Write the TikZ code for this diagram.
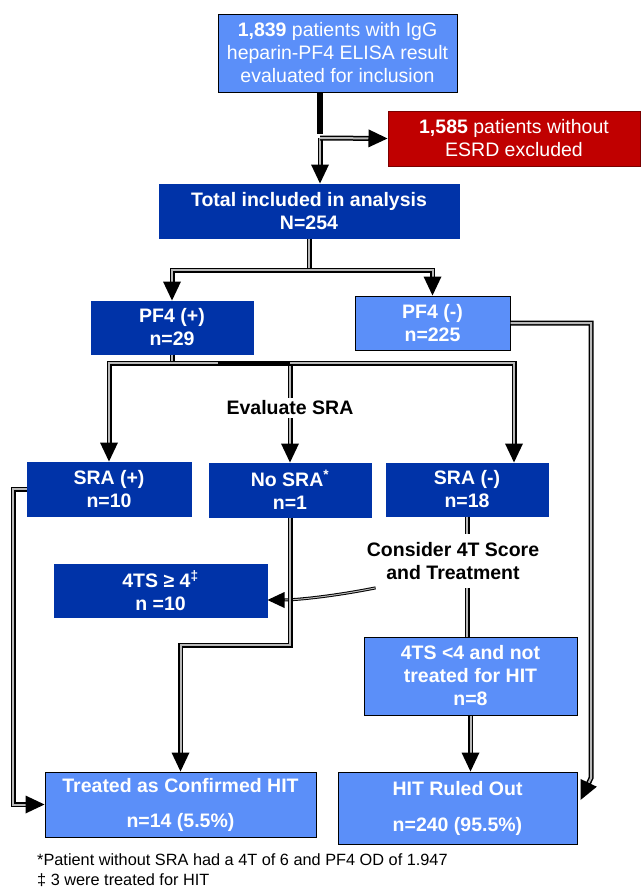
\documentclass[tikz,border=0pt]{standalone}
\usepackage{fontspec}
\setmainfont{Liberation Sans}
\usetikzlibrary{decorations.markings}
\definecolor{lblue}{HTML}{5B8FF9}
\definecolor{dblue}{HTML}{0033A8}
\definecolor{exred}{HTML}{C00000}
\definecolor{exredb}{HTML}{7A0000}
\newcommand{\boxfont}{\fontsize{19.5}{23}\selectfont}
\begin{document}
\begin{tikzpicture}[x=1pt,y=-1pt,
  basebox/.style 2 args={minimum width=#1pt, minimum height=#2pt, inner sep=0pt, align=center, text=white},
  lbox/.style 2 args={basebox={#1}{#2}, draw=black, line width=1pt, fill=lblue, font=\boxfont\bfseries},
  dbox/.style 2 args={basebox={#1}{#2}, draw=dblue, line width=1pt, fill=dblue, font=\boxfont\bfseries},
  rbox/.style 2 args={basebox={#1}{#2}, draw=exredb, line width=1pt, fill=exred, font=\boxfont},
  conn/.style={draw=black, line width=5pt, postaction={draw=gray!55, line width=2pt}},
  bigtip/.style={postaction={decorate, decoration={markings,
    mark=at position 1 with {\fill[black] (0pt,0pt) -- (-19pt,9pt) -- (-19pt,-9pt) -- cycle;}}}},
  smalltip/.style={postaction={decorate, decoration={markings,
    mark=at position 1 with {\fill[black] (0pt,0pt) -- (-17pt,8pt) -- (-17pt,-8pt) -- cycle;}}}},
  carr/.style={draw=black, line width=5pt, shorten >=17pt,
    postaction={draw=gray!55, line width=2pt, shorten >=19pt}, bigtip},
  cthin/.style={draw=black, line width=3pt, shorten >=15pt,
    postaction={draw=gray!55, line width=1pt, shorten >=17pt}, smalltip},
  heavy/.style={draw=black, line width=6pt},
  label/.style={font=\boxfont\bfseries, text=black, fill=white, align=center},
  note/.style={font=\fontsize{16.3}{20}\selectfont, text=black, anchor=base west, inner sep=0pt}
]
\useasboundingbox (0,0) rectangle (642,887);
\fill[white] (0,0) rectangle (642,887);

% boxes
\node[lbox={239}{78}, font=\boxfont\mdseries] (b1) at (337.5,53)
  {{\bfseries 1,839} patients with IgG\\heparin-PF4 ELISA result\\evaluated for inclusion};
\node[rbox={252}{55}] (red) at (514,138.5) {{\bfseries 1,585} patients without\\ESRD excluded};
\node[dbox={300}{54}] (tot) at (309,211) {Total included in analysis\\N=254};
\node[dbox={162}{53}] (pfp) at (172,327.5) {PF4 (+)\\n=29};
\node[lbox={155}{54}] (pfm) at (432.5,323) {PF4 (-)\\n=225};
\node[dbox={164}{54}] (srap) at (109,489) {SRA (+)\\n=10};
\node[dbox={162}{54}] (nosra) at (290,490) {No SRA\textsuperscript{*}\\n=1};
\node[dbox={162}{53}] (sram) at (467,489.5) {SRA (-)\\n=18};
\node[dbox={213}{53}] (fts) at (160.5,590.5) {4TS ≥ 4\textsuperscript{‡}\\n =10};
\node[lbox={213}{78}] (ftl) at (470.5,676) {4TS <4 and not\\treated for HIT\\n=8};
\node[lbox={271}{65}] (trt) at (180.5,804.5) {Treated as Confirmed HIT\\[12pt]n=14 (5.5\%)};
\node[lbox={239}{72}] (hit) at (457.5,808) {HIT Ruled Out\\[13pt]n=240 (95.5\%)};

% junctions
\coordinate (j1) at (320,138);
\coordinate (j2) at (tot.south |- 0,270);
\coordinate (j3) at (pfp.south |- 0,363);
\coordinate (k1) at (13,0);
\coordinate (k2) at (591,0);
\coordinate (k3) at (0,645);

% top
\draw[carr] (j1) -- (j1 |- tot.north);
\draw[carr] (j1) -- (red.west);
\draw[heavy] (j1 |- b1.south) -- ([yshift=4pt]j1);

% total -> PF4
\draw[conn] (tot.south) -- (j2);
\draw[carr] (j2) -| (pfp.north);
\draw[carr] (j2) -| (pfm.north);

% PF4(+) -> SRA
\draw[conn] (pfp.south) -- (j3);
\draw[carr] (j3) -| (srap.north);
\draw[carr] (j3) -| (nosra.north);
\draw[carr] (j3) -| ([xshift=47pt]sram.north);
\draw[line width=5pt] (218,363) -- (290,363);
\node[label, inner sep=3pt] (eval) at (290,408) {Evaluate SRA};

% SRA(-) -> consider
\node[label, inner sep=8pt, fill=none] (c4t) at (453,561) {Consider 4T Score\\and Treatment};
\draw[conn] (sram.south) -- ([xshift=14pt]c4t.north);
\draw[conn] ([xshift=14pt]c4t.south) -- ([xshift=14pt]c4t.south |- ftl.north);
\draw[cthin]
  ([xshift=17pt]c4t.south west) .. controls +(-40,8) and +(30,0) .. ([yshift=-9.5pt]fts.east);

% No SRA -> treated
\draw[carr] (nosra.south) |- (k3 -| trt.north) -- (trt.north);
% SRA(+) -> treated
\draw[carr] (srap.west) -| (k1 |- trt.west) -- (trt.west);
% 4TS<4 -> HIT
\draw[carr] (ftl.south) -- (ftl.south |- hit.north);
% PF4(-) -> HIT
\draw[carr] (pfm.east) -| (k2 |- 0,778) -- ([xshift=3pt,yshift=8pt]hit.east);

% footnotes
\node[note] (n1) at (37,865) {*Patient without SRA had a 4T of 6 and PF4 OD of 1.947};
\node[note] (n2) at (37,885) {‡ 3 were treated for HIT};
\end{tikzpicture}
\end{document}
